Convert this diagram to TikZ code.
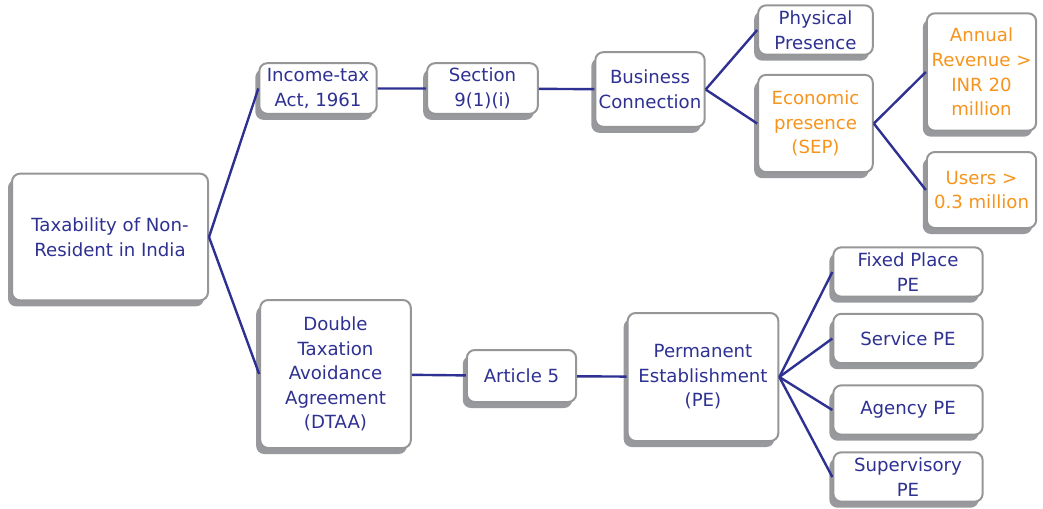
\documentclass[tikz,border=0pt]{standalone}
\usepackage{fontspec}
\setmainfont{DejaVu Sans}
\usetikzlibrary{shadows}
\definecolor{navy}{RGB}{46,49,146}
\definecolor{orng}{RGB}{247,148,29}
\definecolor{rim}{RGB}{150,150,152}
\definecolor{shade}{RGB}{152,153,157}

\begin{document}
\begin{tikzpicture}[x=0.75pt,y=-0.75pt,
	block/.style={draw=rim,line width=1.5pt,fill=white,rounded corners=6pt,
	align=center,text=navy,inner sep=2pt,font=\fontsize{13.6}{18.4}\selectfont,
	general shadow={fill=shade,shadow xshift=-3pt,shadow yshift=-4.5pt}},
	sep/.style={text=orng},
	link/.style={draw=navy,line width=1.8pt}]
    \useasboundingbox (0,0) rectangle (1043,508);
    % root
    \node[block,minimum width=147pt,minimum height=95pt] (root) at (110,237) {Taxability of Non-\\Resident in India};
    % Income-tax Act branch
    \node[block,minimum width=88pt,minimum height=38pt] (ita) at (318,88.5) {Income-tax\\Act, 1961};
    \node[block,minimum width=83pt,minimum height=38pt] (sec) at (482.5,88.5) {Section\\9(1)(i)};
    \node[block,minimum width=82pt,minimum height=56pt] (bc) at (650,89.5) {Business\\Connection};
    \node[block,minimum width=86pt,minimum height=37pt] (phys) at (815.5,30) {Physical\\Presence};
    \node[block,sep,minimum width=86pt,minimum height=73pt] (sep) at (815.5,123.5) {Economic\\presence\\(SEP)};
    \node[block,sep,minimum width=82pt,minimum height=88pt] (rev) at (981.5,72) {Annual\\Revenue >\\INR 20\\million};
    \node[block,sep,minimum width=82pt,minimum height=57pt] (usr) at (981.5,190) {Users >\\0.3 million};
    % DTAA branch
    \node[block,minimum width=113pt,minimum height=111pt] (dtaa) at (335.5,374) {Double\\Taxation\\Avoidance\\Agreement\\(DTAA)};
    \node[block,minimum width=82pt,minimum height=39pt] (art) at (521.5,376) {Article 5};
    \node[block,minimum width=113pt,minimum height=96pt] (pe) at (703,377) {Permanent\\Establishment\\(PE)};
    \node[block,minimum width=112pt,minimum height=37pt] (fix) at (908,272) {Fixed Place\\PE};
    \node[block,minimum width=112pt,minimum height=37pt] (svc) at (908,338.5) {Service PE};
    \node[block,minimum width=112pt,minimum height=37pt] (agy) at (908,410) {Agency PE};
    \node[block,minimum width=112pt,minimum height=37pt] (sup) at (908,477) {Supervisory\\PE};
    % connectors
    \draw[link] (root.east) -- (ita.west);
    \draw[link] (root.east) -- (dtaa.west);
    \draw[link] (ita) -- (sec) -- (bc);
    \draw[link] (bc.east) -- (phys.west);
    \draw[link] (bc.east) -- (sep.west);
    \draw[link] (sep.east) -- (rev.west);
    \draw[link] (sep.east) -- (usr.west);
    \draw[link] (dtaa) -- (art) -- (pe);
    \foreach \t in {fix,svc,agy,sup}
        \draw[link] (pe.east) -- (\t.west);
\end{tikzpicture}
\end{document}
